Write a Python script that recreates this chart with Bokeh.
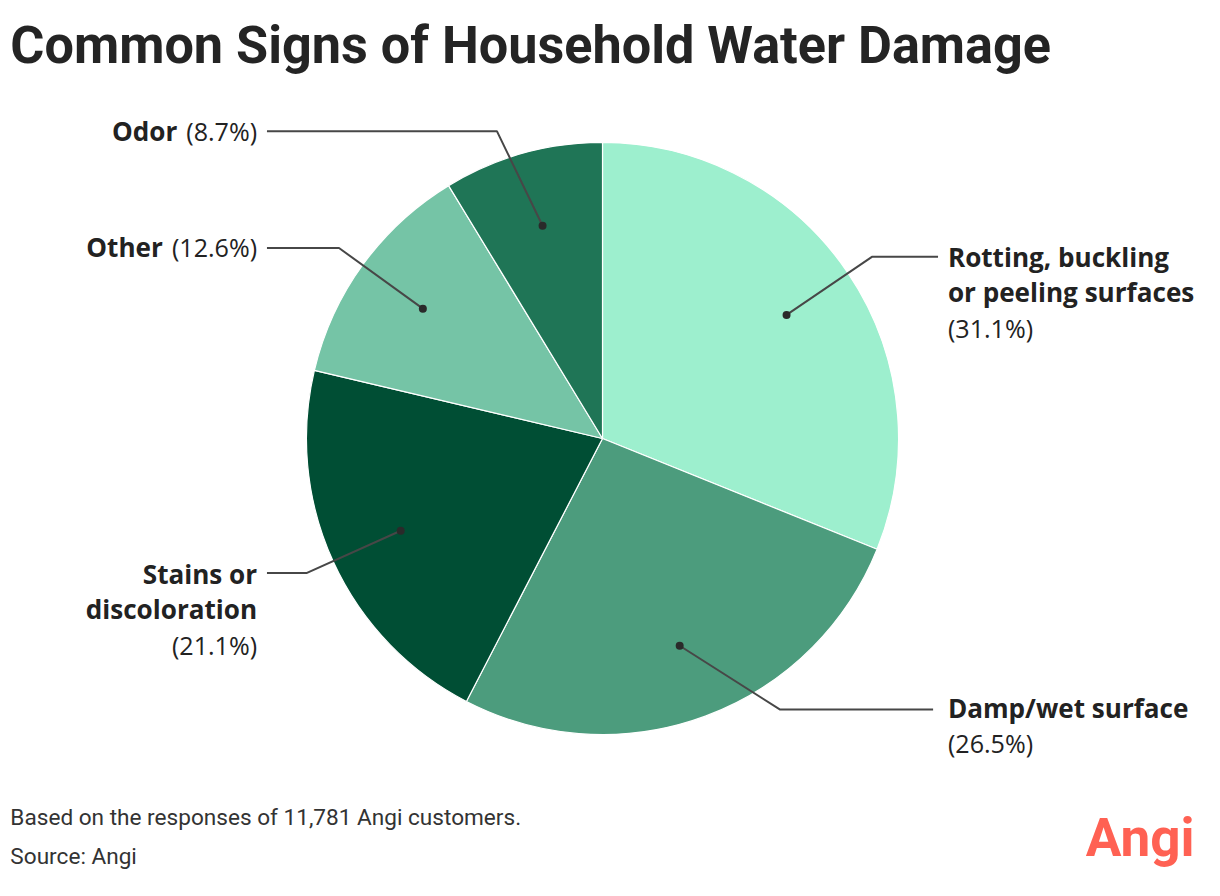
import math
from bokeh.plotting import figure
from bokeh.models import Range1d, ColumnDataSource
from bokeh.core.properties import value
from bokeh.embed import file_html
from bokeh.resources import INLINE

# ---------------- data ----------------
categories = ["Rotting, buckling or peeling surfaces", "Damp/wet surface",
              "Stains or discoloration", "Other", "Odor"]
shares = [31.1, 26.5, 21.1, 12.6, 8.7]
colors = ["#9DEFCE", "#4C9C7D", "#004E34", "#75C4A6", "#1F7556"]
# how each category name is broken over lines in its label
label_lines = [["Rotting, buckling", "or peeling surfaces"],
               ["Damp/wet surface"],
               ["Stains or", "discoloration"],
               ["Other"],
               ["Odor"]]

title = "Common Signs of Household Water Damage"
note = "Based on the responses of 11,781 Angi customers."
source_txt = "Source: Angi"
brand = "Angi"

# ---------------- layout (reference pixel coordinates) ----------------
W, H = 1204, 880
S = 0.984                      # canvas px per reference px
def Y(y):
    return 896 - y
def fs(px):
    return f"{px * S:.1f}px"
def TY(base, px, fix=0.42):    # baseline correction (em)
    return Y(base) + fix * px

CX, CY, R = 610, Y(446), 300
DOT_R = 0.75
layout = [
    dict(side="right", elbow=(883, 261), end=(950, 261), tx=960, base=272, inline=False),
    dict(side="right", elbow=(790, 722), end=(945, 722), tx=960, base=731, inline=False),
    dict(side="left", elbow=(310, 583), end=(270, 583), tx=260, base=595, inline=False),
    dict(side="left", elbow=(343, 252), end=(270, 252), tx=260, base=262, inline=True),
    dict(side="left", elbow=(503, 133), end=(270, 133), tx=260, base=144, inline=True),
]
LINE_H = 36
BOLD_PX = 26.5
NORM_PX = 25.5
# Open Sans regular advance widths (em) for the percentage strings
OS_W = {"(": .297, ")": .297, ".": .274, "%": .847}
def pct_width(s, px):
    return sum(OS_W.get(c, .572) for c in s) * px

p = figure(width=W, height=H, x_range=Range1d(0, 1220), y_range=Range1d(0, 896),
           output_backend="svg", toolbar_location=None, min_border=0,
           x_axis_location=None, y_axis_location=None)
p.grid.visible = False
p.outline_line_color = None
p.background_fill_color = "white"
p.border_fill_color = "white"

# wedges
total = sum(shares)
starts, ends, mids = [], [], []
cum = 0.0
for v in shares:
    a0 = math.pi / 2 - 2 * math.pi * cum / total
    cum += v
    a1 = math.pi / 2 - 2 * math.pi * cum / total
    starts.append(a0)
    ends.append(a1)
    mids.append((a0 + a1) / 2)

src = ColumnDataSource(dict(start=starts, end=ends, color=colors, cat=categories))
p.wedge(x=CX, y=CY, radius=R, start_angle="start", end_angle="end", direction="clock",
        fill_color="color", line_color="white", line_width=1.2, source=src)

# leader lines and dots
dx = [CX + DOT_R * R * math.cos(m) for m in mids]
dy = [CY + DOT_R * R * math.sin(m) for m in mids]
xs, ys = [], []
for i, L in enumerate(layout):
    xs.append([dx[i], L["elbow"][0], L["end"][0]])
    ys.append([dy[i], Y(L["elbow"][1]), Y(L["end"][1])])
p.multi_line(xs=xs, ys=ys, line_color="#474747", line_width=2)
p.scatter(x=dx, y=dy, size=8, fill_color="#2a2a2a", line_color=None)

# labels
bold = dict(t=[], x=[], y=[], a=[])
norm = dict(t=[], x=[], y=[], a=[])
for i, L in enumerate(layout):
    align = "left" if L["side"] == "right" else "right"
    pct = f"({shares[i]}%)"
    if L["inline"]:
        bx = L["tx"] - pct_width(pct, NORM_PX) - 8
        bold["t"].append(label_lines[i][0]); bold["x"].append(bx)
        bold["y"].append(TY(L["base"], BOLD_PX)); bold["a"].append("right")
        norm["t"].append(pct); norm["x"].append(L["tx"])
        norm["y"].append(TY(L["base"], NORM_PX)); norm["a"].append("right")
    else:
        for k, line in enumerate(label_lines[i]):
            bold["t"].append(line); bold["x"].append(L["tx"])
            bold["y"].append(TY(L["base"] + k * LINE_H, BOLD_PX)); bold["a"].append(align)
        norm["t"].append(pct); norm["x"].append(L["tx"])
        norm["y"].append(TY(L["base"] + len(label_lines[i]) * LINE_H, NORM_PX))
        norm["a"].append(align)

p.text(x="x", y="y", text="t", text_align="a", source=ColumnDataSource(bold),
       text_font=value("Open Sans"), text_font_style="bold", text_font_size=fs(BOLD_PX),
       text_color="#222222", text_baseline="alphabetic")
p.text(x="x", y="y", text="t", text_align="a", source=ColumnDataSource(norm),
       text_font=value("Open Sans"), text_font_style="normal", text_font_size=fs(NORM_PX),
       text_color="#222222", text_baseline="alphabetic")

# title
TITLE_PX = 53
p.text(x=[10], y=[TY(63, TITLE_PX, 0.33)], text=[title], text_font=value("Roboto"),
       text_font_style="bold", text_font_size=fs(TITLE_PX), text_color="#242424",
       text_baseline="alphabetic", text_align="left")
# footer
FOOT_PX = 23
p.text(x=[10, 10], y=[TY(842, FOOT_PX), TY(881, FOOT_PX)], text=[note, source_txt],
       text_font=value("Roboto"), text_font_size=fs(FOOT_PX), text_color="#333333",
       text_baseline="alphabetic", text_align="left")
# brand
BRAND_PX = 54
p.text(x=[1210], y=[TY(875, BRAND_PX)], text=[brand], text_font=value("Roboto"),
       text_font_style="bold", text_font_size=fs(BRAND_PX), text_color="#FF6153",
       text_baseline="alphabetic", text_align="right")

open("out.html", "w").write(file_html(p, INLINE))
